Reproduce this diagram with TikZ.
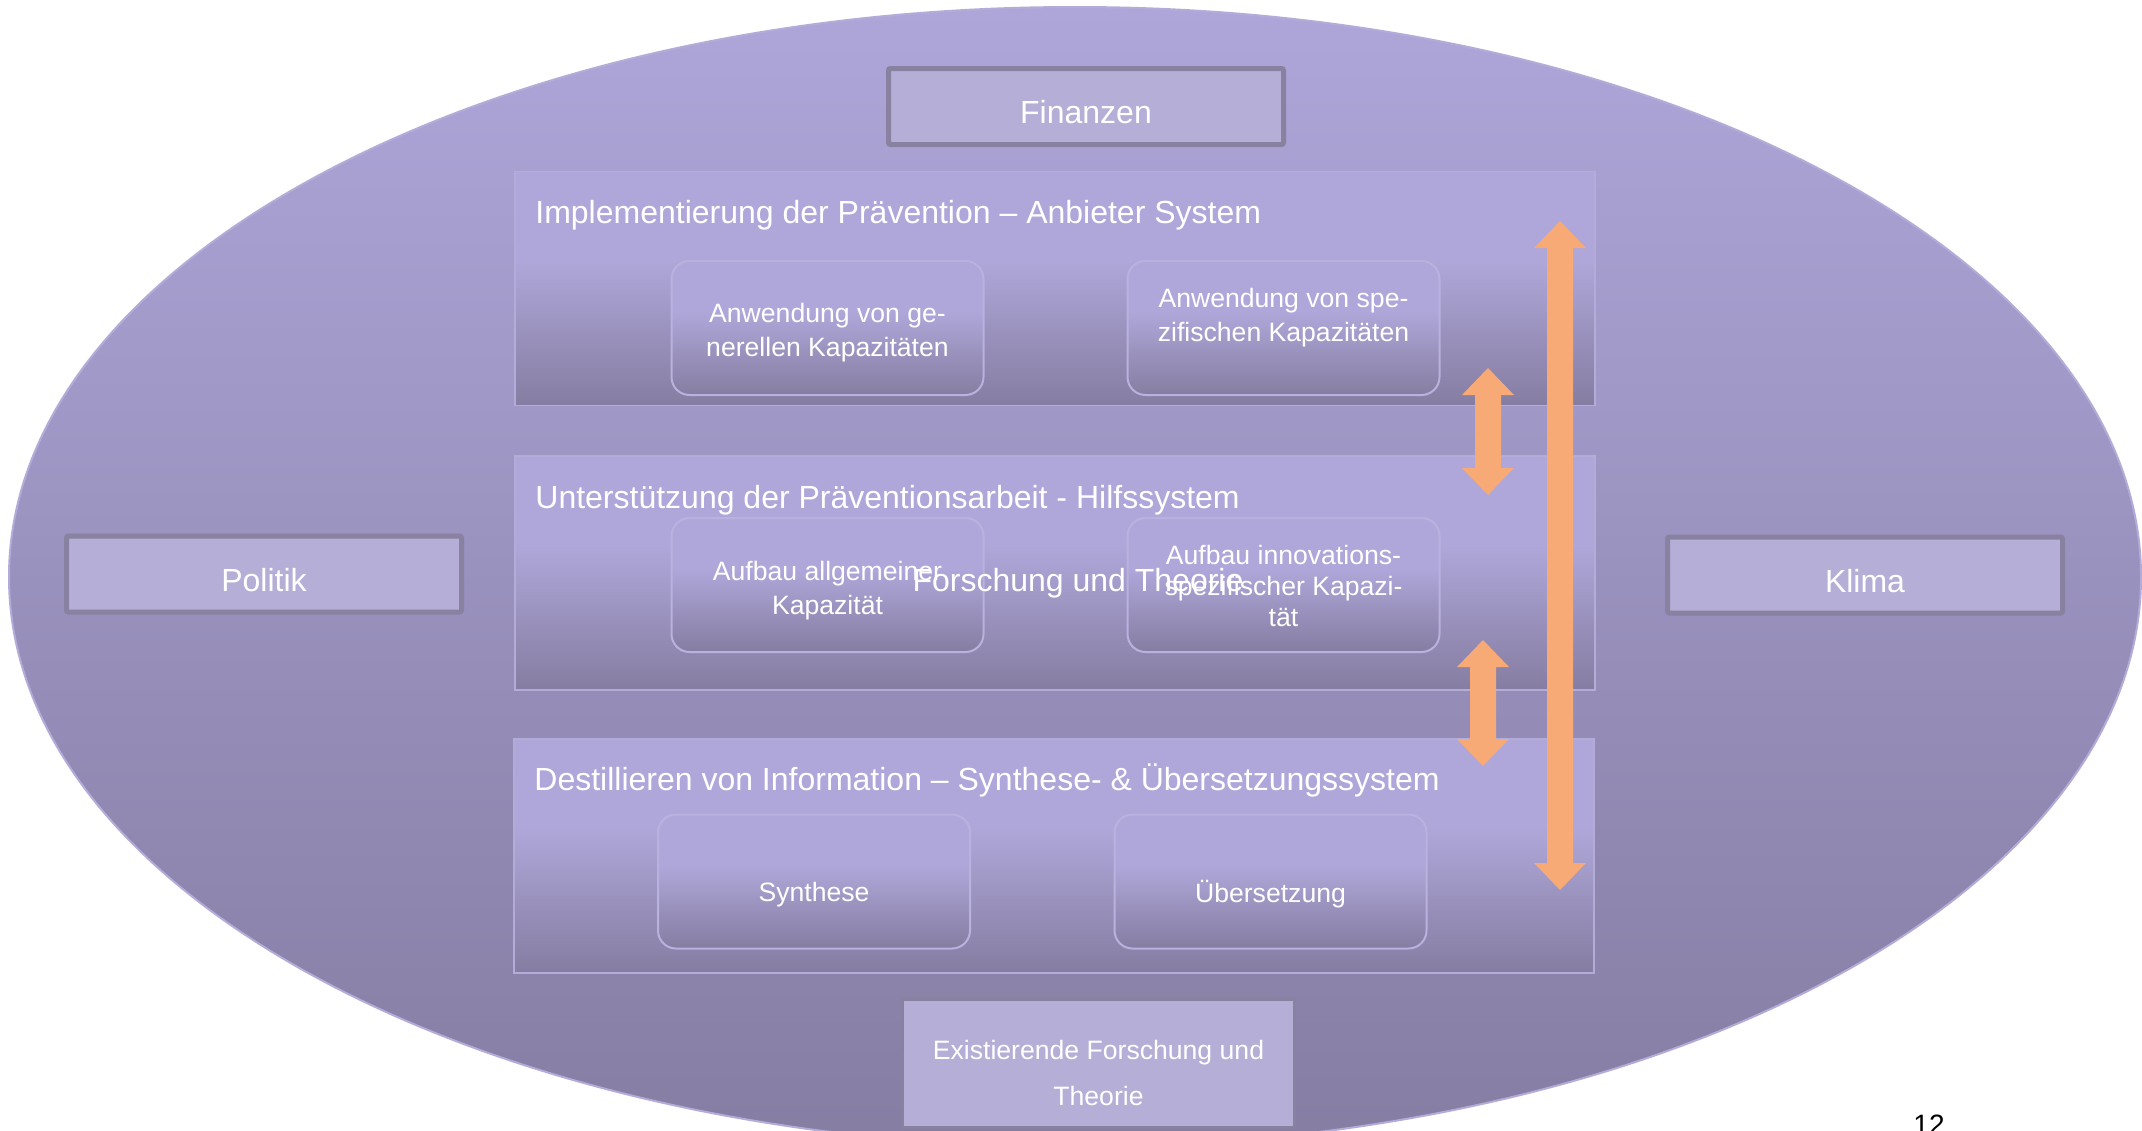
\documentclass[tikz,border=0pt]{standalone}
\usepackage{fontspec}
\setmainfont{Liberation Sans}
\usetikzlibrary{calc}
\definecolor{ellTop}{RGB}{174,166,217}
\definecolor{ellBot}{RGB}{133,125,162}
\definecolor{boxTop}{RGB}{175,167,217}
\definecolor{boxBot}{RGB}{133,125,161}
\definecolor{boxLine}{RGB}{180,172,216}
\definecolor{subLine}{RGB}{186,178,222}
\definecolor{tagFill}{RGB}{181,174,214}
\definecolor{tagLine}{RGB}{137,129,160}
\definecolor{arrowOr}{RGB}{247,170,118}
\pgfdeclareverticalshading{boxshade}{100bp}{color(0bp)=(boxBot); color(25bp)=(boxBot); color(56bp)=(boxTop); color(100bp)=(boxTop)}
\newcommand\dblarrow[2]{%
  \fill[arrowOr] let \p1=(#1), \p2=(#2) in
    (\x1,\y1) -- (\x1+13pt,\y1-13.5pt) -- (\x1+6.5pt,\y1-13.5pt)
    -- (\x2+6.5pt,\y2+13.5pt) -- (\x2+13pt,\y2+13.5pt) -- (\x2,\y2)
    -- (\x2-13pt,\y2+13.5pt) -- (\x2-6.5pt,\y2+13.5pt)
    -- (\x1-6.5pt,\y1-13.5pt) -- (\x1-13pt,\y1-13.5pt) -- cycle;}
\tikzset{
  layerbox/.style={rectangle, draw=boxLine, line width=0.75pt, shading=boxshade,
    minimum width=540pt, minimum height=117pt, inner sep=0pt},
  subbox/.style={rectangle, rounded corners=9pt, draw=subLine, line width=1pt,
    shading=boxshade, minimum width=156pt, minimum height=67pt, inner sep=0pt},
  tagbox/.style={rectangle, rounded corners=1pt, fill=tagFill, draw=tagLine,
    line width=2.5pt, minimum width=197.5pt, minimum height=38pt, inner sep=0pt,
    text=white, font=\fontsize{16}{19}\selectfont, text height=17pt, text depth=0pt},
  titletxt/.style={anchor=west, inner sep=0pt, text=white, font=\fontsize{16}{19}\selectfont},
  subtxt/.style={inner sep=0pt, text=white, align=center, font=\fontsize{13.3}{17}\selectfont},
}
\begin{document}
\begin{tikzpicture}[x=0.5pt, y=-0.5pt]
\useasboundingbox (0,0) rectangle (2142,1130);
\fill[white] (0,0) rectangle (2142,1130);
% outer ellipse
\draw[draw=boxLine, line width=1pt, top color=ellTop, bottom color=ellBot]
  (1075,577) ellipse [x radius=533pt, y radius=285pt];
% layer boxes
\node[layerbox] (L1) at (1055,288.5) {};
\node[layerbox] (L2) at (1055,573) {};
\node[layerbox] (L3) at (1054,856) {};
% sub boxes
\node[subbox] (S1a) at (827.5,328) {};
\node[subbox] (S1b) at (1283.5,328) {};
\node[subbox] (S2a) at (827.5,585) {};
\node[subbox] (S2b) at (1283.5,585) {};
\node[subbox] (S3a) at (814,881.5) {};
\node[subbox] (S3b) at (1270.5,881.5) {};
% context boxes
\node[tagbox] (fin) at (1086,106.5) {Finanzen};
\node[tagbox] (pol) at (264,574) {Politik};
\node[tagbox] (kli) at (1865,575) {Klima};
\node[rectangle, fill=tagFill, draw=tagLine, line width=1.5pt, minimum width=196pt,
  minimum height=64pt, inner sep=0pt] (ex) at (1098.5,1063.5) {};
\node[inner sep=0pt, text=white, align=center, font=\fontsize{13.3}{23}\selectfont]
  (extxt) at (1098.5,1073) {Existierende Forschung und\\Theorie};
% titles
\node[titletxt] (T1) at (535,215) {Implementierung der Prävention – Anbieter System};
\node[titletxt] (T2) at (535,500) {Unterstützung der Präventionsarbeit - Hilfssystem};
\node[titletxt] (T3) at (534,780) {Destillieren von Information – Synthese- \& Übersetzungssystem};
% sub texts
\node[subtxt] (t1a) at (827.5,333) {Anwendung von ge-\\nerellen Kapazitäten};
\node[subtxt] (t1b) at (1283.5,318) {Anwendung von spe-\\zifischen Kapazitäten};
\node[subtxt] (t2a) at (827.5,591) {Aufbau allgemeiner\\Kapazität};
\node[subtxt, font=\fontsize{13.3}{15.3}\selectfont] (t2b) at (1283.5,586)
  {Aufbau innovations-\\spezifischer Kapazi-\\tät};
\node[subtxt] (t3a) at (814,895) {Synthese};
\node[subtxt] (t3b) at (1270.5,894) {Übersetzung};
% arrows
\coordinate (A1t) at (1560,221);
\coordinate (A1b) at (1560,890);
\coordinate (A2t) at (1488,368);
\coordinate (A2b) at (1488,495);
\coordinate (A3t) at (1483,640);
\coordinate (A3b) at (1483,766);
\dblarrow{A1t}{A1b}
\dblarrow{A2t}{A2b}
\dblarrow{A3t}{A3b}
% overlapping central label
\node[inner sep=0pt, text=white, font=\fontsize{16}{19}\selectfont] (ft) at (1078,583) {Forschung und Theorie};
% page number
\node[inner sep=0pt, anchor=base, text=black, font=\fontsize{14}{16}\selectfont] (pg) at (1929,1134) {12};
\end{tikzpicture}
\end{document}
